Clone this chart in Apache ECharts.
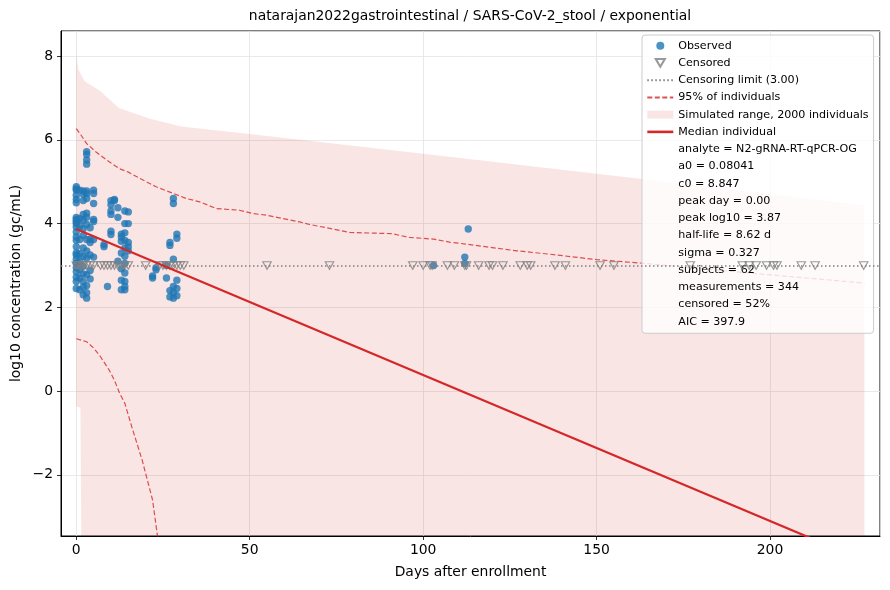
<!DOCTYPE html>
<html>
<head>
<meta charset="utf-8">
<title>natarajan2022gastrointestinal / SARS-CoV-2_stool / exponential</title>
<script src="https://cdn.jsdelivr.net/npm/echarts@6/dist/echarts.min.js"></script>
<style>
  html, body { margin: 0; padding: 0; background: #fff; }
  #main { width: 890px; height: 590px; }
</style>
</head>
<body>
<div id="main"></div>
<script>
// observed measurements (day, log10 gc/mL)
var obsDay = [
  0,0,0,0,0,0,0,0,0,0,0,0,0,0,0,0,0,0,0,0,0,0,0,0,
  1,1,1,1,1,1,1,1,1,
  2,2,2,2,2,2,2,2,2,2,2,2,2,2,
  3,3,3,3,3,3,3,3,3,3,3,3,3,3,3,3,3,
  4,4,4,4,4,4,
  5,5,5,5,5,5,5,
  8,8,9,
  10,10,10,10,10,10,
  11,11,
  12,12,12,
  13,13,13,13,13,13,13,
  14,14,14,14,14,14,14,14,14,14,14,
  15,15,15,15,15,
  22,22,23,23,26,26,
  27,27,27,27,
  28,28,28,28,28,28,
  29,29,29,29,29,
  103,112,112,113
]
var obsVal = [
  4.88,4.83,4.8,4.68,4.58,4.5,4.15,4.1,4.05,4.0,3.92,3.8,3.68,3.6,3.45,3.3,3.25,3.15,3.05,2.95,2.85,2.72,2.62,2.45,
  4.8,4.12,3.95,3.62,3.28,3.1,2.9,2.7,2.42,
  4.78,4.7,4.55,4.22,4.08,3.88,3.72,3.42,3.22,2.98,2.8,2.62,2.48,2.3,
  5.72,5.65,5.52,5.42,4.78,4.72,4.6,4.25,4.15,3.98,3.62,3.35,3.18,2.78,2.52,2.35,2.22,
  3.9,3.62,3.55,3.25,2.88,2.68,
  4.8,4.72,4.48,4.1,4.05,3.62,3.2,
  3.5,3.45,2.5,
  4.55,4.45,4.3,4.22,3.82,3.74,
  4.58,4.55,
  4.38,4.15,3.1,
  3.75,3.68,3.58,3.3,2.92,2.65,2.42,
  4.3,4.0,3.78,3.6,3.42,3.22,3.05,2.82,2.62,2.5,2.42,
  4.28,4.0,3.55,3.45,3.35,
  2.7,2.75,2.95,2.9,3.0,2.7,
  3.55,3.48,2.4,2.25,
  4.6,4.48,3.15,2.5,2.35,2.22,
  3.75,3.65,2.65,2.45,2.28,
  3.0,3.2,3.05,3.87
]

// censored measurements, drawn at the censoring limit
var censLimit = 3.0
var censDay = [0,0.5,1,1.5,2,3,4,5,7,8,9,10,11,12,13,14,15,20,24,25,26,27,28,29,30,31,
  55,73,97,100,102,102.6,107,109,112,112.5,116,119,120,123,128,130,131,138,141,151,155,
  177,192,194,196,199,201,202,209,213,227]

// model curves
var medianLine = [[0, 3.87], [227.2, -4.05]]
var upper95 = [[0,6.27],[1.4,6.11],[3,5.91],[5.7,5.71],[9.6,5.47],[12.5,5.31],[15,5.23],[18.3,5.08],
  [23,4.88],[28,4.72],[31.7,4.6],[35.6,4.52],[40.4,4.36],[47,4.32],[51,4.24],[55,4.2],[64.4,4.04],
  [67.3,3.98],[78.8,3.79],[91,3.76],[96,3.67],[103,3.63],[107.6,3.56],[117,3.46],[127,3.35],
  [136.5,3.27],[150,3.14],[162.4,3.06],[190,2.85],[227.2,2.58]]
var lower95 = [[0,1.25],[3,1.18],[5,1.03],[7,0.82],[9.5,0.5],[11,0.26],[12.5,-0.05],[14,-0.29],
  [16,-0.85],[19,-1.65],[22,-2.6],[23.4,-3.45],[26,-4.4]]
var simUpper = [[0,8.06],[0.6,7.68],[2.4,7.4],[6.7,7.18],[12.3,6.76],[21,6.51],[30.3,6.32],
  [50,6.14],[100,5.67],[150,5.19],[162.4,5.07],[227.2,4.44]]
var simLower = [[0,-0.37],[1.2,-0.4],[2.4,-15],[227.2,-15]]

var statLines = [
  'analyte = N2-gRNA-RT-qPCR-OG',
  'a0 = 0.08041',
  'c0 = 8.847',
  'peak day = 0.00',
  'peak log10 = 3.87',
  'half-life = 8.62 d',
  'sigma = 0.327',
  'subjects = 62',
  'measurements = 344',
  'censored = 52%',
  'AIC = 397.9'
]

var FONT = 'DejaVu Sans'
var RED = '#d62728'
var BLUE = '#1f77b4'
var GREY = '#7f7f7f'
var BAND = 'rgba(214,39,40,0.12)'

var obs = obsDay.map(function (d, i) { return [d, obsVal[i]] })
var cens = censDay.map(function (d) { return [d, censLimit] })

function minus(v) { return String(v).replace('-', '\u2212') }

var axisCommon = {
  type: 'value',
  nameLocation: 'middle',
  nameMoveOverlap: false,
  nameTextStyle: { fontFamily: FONT, fontSize: 13.9, color: '#000' },
  axisLine: { show: true, onZero: false, lineStyle: { color: '#000', width: 1 } },
  axisTick: { show: true, inside: false, length: 4, lineStyle: { color: '#000', width: 0.8 } },
  splitLine: { show: true, lineStyle: { color: '#e3e3e3', width: 0.8 } }
}

var myChart = echarts.init(document.getElementById('main'))

var series = [
  {
    name: 'Simulated range, 2000 individuals',
    type: 'custom',
    clip: true,
    z: 1,
    silent: true,
    itemStyle: { color: BAND },
    data: [[0, 0]],
    renderItem: function (params, api) {
      var pts = simUpper.map(function (p) { return api.coord(p) })
      simLower.slice().reverse().forEach(function (p) { pts.push(api.coord(p)) })
      return { type: 'polygon', shape: { points: pts }, style: { fill: BAND } }
    }
  },
  {
    name: '95% of individuals', type: 'line', data: upper95, symbol: 'none', z: 2,
    itemStyle: { color: RED },
    lineStyle: { color: 'rgba(214,39,40,0.8)', width: 1.2, type: [5, 2.5] }
  },
  {
    name: '95% of individuals', type: 'line', data: lower95, symbol: 'none', z: 2,
    itemStyle: { color: RED },
    lineStyle: { color: 'rgba(214,39,40,0.8)', width: 1.2, type: [5, 2.5] }
  },
  {
    name: 'Censoring limit (3.00)', type: 'line', data: [], symbol: 'none', z: 2,
    itemStyle: { color: GREY },
    lineStyle: { color: GREY, width: 1.5, type: [1.5, 2.5] },
    markLine: {
      silent: true, symbol: 'none', label: { show: false },
      lineStyle: { color: GREY, width: 1.5, type: [1.5, 2.5] },
      data: [{ yAxis: censLimit }]
    }
  },
  {
    name: 'Observed', type: 'scatter', data: obs, symbol: 'circle', symbolSize: 7.4, z: 3,
    itemStyle: { color: BLUE, opacity: 0.8 }
  },
  {
    name: 'Censored', type: 'scatter', data: cens, z: 4,
    symbol: 'path://M0,0L10,0L5,8.66Z', symbolSize: [8.5, 7.5],
    itemStyle: { color: 'rgba(0,0,0,0)', borderColor: GREY, borderWidth: 1.1 }
  },
  {
    name: 'Median individual', type: 'line', data: medianLine, symbol: 'none', z: 5,
    itemStyle: { color: RED },
    lineStyle: { color: RED, width: 2.2 }
  }
]
statLines.forEach(function (s) {
  series.push({ name: s, type: 'line', data: [], symbol: 'none' })
})

var noSymbol = { opacity: 0 }
var legendData = [
  'Observed',
  'Censored',
  { name: 'Censoring limit (3.00)', itemStyle: noSymbol },
  { name: '95% of individuals', itemStyle: noSymbol },
  { name: 'Simulated range, 2000 individuals', icon: 'rect' },
  { name: 'Median individual', itemStyle: noSymbol, lineStyle: { width: 2.6 } }
]
statLines.forEach(function (s) { legendData.push({ name: s, icon: 'none' }) })

var option = {
  animation: false,
  backgroundColor: '#fff',
  title: {
    text: 'natarajan2022gastrointestinal / SARS-CoV-2_stool / exponential',
    left: 470, top: 9, padding: 0, textAlign: 'center',
    textStyle: { fontFamily: FONT, fontSize: 13.9, fontWeight: 'normal', color: '#000' }
  },
  grid: {
    left: 61, right: 10, top: 31, bottom: 54,
    show: true, borderColor: '#000', borderWidth: 1,
    outerBoundsMode: 'none'
  },
  legend: {
    orient: 'vertical', left: 642, top: 35,
    padding: [2, 5, 3, 4],
    itemGap: 0, itemWidth: 26, itemHeight: 8,
    selectedMode: false,
    backgroundColor: 'rgba(255,255,255,0.8)',
    borderColor: '#cccccc', borderWidth: 1, borderRadius: 3,
    textStyle: { fontFamily: FONT, fontSize: 11.1, color: '#000', lineHeight: 17.25 },
    data: legendData
  },
  xAxis: Object.assign({}, axisCommon, {
    min: -4.4, max: 231.7, splitNumber: 5,
    name: 'Days after enrollment', nameGap: 29,
    axisLabel: { fontFamily: FONT, fontSize: 13.9, color: '#000', margin: 7,
      showMinLabel: false, showMaxLabel: false, formatter: minus }
  }),
  yAxis: Object.assign({}, axisCommon, {
    min: -3.46, max: 8.6, splitNumber: 6,
    name: 'log10 concentration (gc/mL)', nameGap: 38,
    axisLabel: { fontFamily: FONT, fontSize: 13.9, color: '#000', margin: 8,
      showMinLabel: false, showMaxLabel: false, formatter: minus }
  }),
  series: series
}

myChart.setOption(option)
</script>
</body>
</html>
